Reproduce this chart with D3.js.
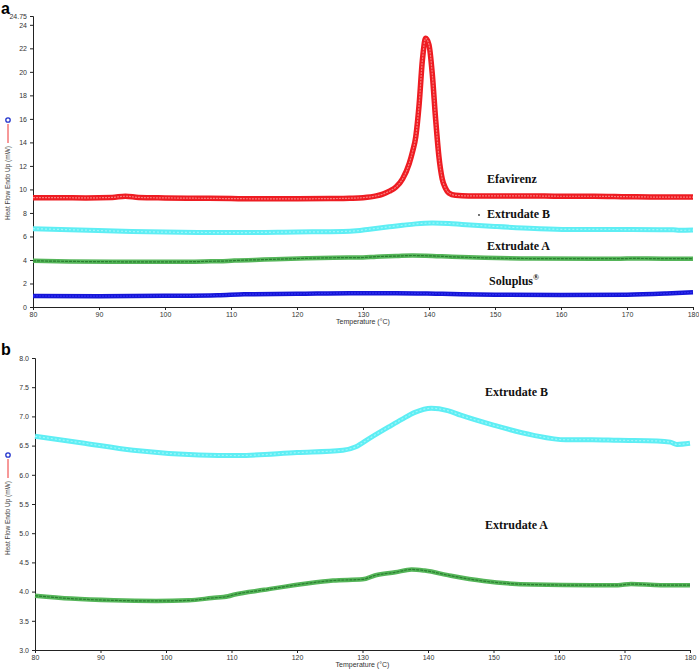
<!DOCTYPE html>
<html lang="en">
<head>
<meta charset="utf-8">
<title>DSC thermograms</title>
<script src="https://cdn.jsdelivr.net/npm/d3@7"></script>
<style>
  body { margin: 0; background: #fff; }
  .tick text { font-family: Arial, "Liberation Sans", sans-serif; font-size: 7px; fill: #333; }
  .lbl { font-family: "Liberation Serif", "Times New Roman", serif; font-weight: bold; font-size: 12px; fill: #111; }
</style>
</head>
<body>
<div id="chart"></div>
<script>
// Efavirenz (red)
var efT  = [80, 84, 88, 92, 94, 96, 100, 105, 110, 115, 120, 125, 128, 130, 132, 133, 134, 135, 136, 137, 137.5, 138, 138.5, 139, 139.5, 140, 140.5, 141, 141.5, 142, 142.5, 143, 144, 146, 150, 155, 160, 165, 170, 175, 180];
var efHF = [9.30, 9.30, 9.28, 9.32, 9.42, 9.32, 9.28, 9.25, 9.22, 9.20, 9.20, 9.22, 9.25, 9.30, 9.45, 9.60, 9.85, 10.2, 10.9, 12.2, 13.2, 14.5, 17.2, 21.0, 22.85, 22.3, 19.8, 16.0, 12.8, 10.9, 10.1, 9.7, 9.5, 9.45, 9.45, 9.45, 9.42, 9.42, 9.38, 9.35, 9.35];

// Extrudate B (cyan)
var bT  = [80, 87, 95, 105, 111, 120, 127, 129, 131, 134, 136, 138, 140.5, 143, 145, 150, 156, 161, 165, 169, 175, 177, 178, 180];
var bHF = [6.66, 6.55, 6.42, 6.34, 6.33, 6.38, 6.42, 6.48, 6.62, 6.82, 6.95, 7.07, 7.14, 7.10, 7.02, 6.85, 6.68, 6.60, 6.60, 6.59, 6.58, 6.56, 6.52, 6.54];

// Extrudate A (green)
var aT  = [80, 85.5, 92, 98.5, 103.5, 107, 109.5, 110.5, 115, 121.5, 125.5, 130, 132, 135, 137.5, 139.5, 143.5, 148.5, 156, 165, 169, 171, 175.5, 180];
var aHF = [3.93, 3.88, 3.85, 3.84, 3.85, 3.89, 3.92, 3.95, 4.03, 4.14, 4.19, 4.21, 4.28, 4.33, 4.38, 4.36, 4.27, 4.18, 4.12, 4.11, 4.11, 4.13, 4.11, 4.11];

// Soluplus (blue)
var sT  = [80, 90, 100, 108, 112, 120, 128, 135, 142, 150, 160, 170, 176, 180];
var sHF = [0.94, 0.92, 0.95, 1.00, 1.08, 1.12, 1.18, 1.18, 1.12, 1.05, 1.02, 1.05, 1.15, 1.25];

var xTicks = [80, 90, 100, 110, 120, 130, 140, 150, 160, 170, 180];
var yTicksA = [0, 2, 4, 6, 8, 10, 12, 14, 16, 18, 20, 22, 24, 24.75];
var yTicksB = [3.0, 3.5, 4.0, 4.5, 5.0, 5.5, 6.0, 6.5, 7.0, 7.5, 8.0];

var w = 699, h = 669;
var svg = d3.select("#chart").append("svg").attr("width", w).attr("height", h);

function zip(t, v){
  return t.map(function(d, i){ return [d, v[i]]; });
}

function series(g, x, y, t, v, col, inner, width, dash){
  var line = d3.line()
    .x(function(d){ return x(d[0]); })
    .y(function(d){ return y(d[1]); })
    .curve(d3.curveMonotoneX);
  var pts = zip(t, v);
  g.append("path").attr("d", line(pts)).attr("fill", "none")
    .attr("stroke", col).attr("stroke-width", width).attr("stroke-linejoin", "round");
  g.append("path").attr("d", line(pts)).attr("fill", "none")
    .attr("stroke", inner).attr("stroke-width", 1.2).attr("stroke-dasharray", dash);
}

function axes(g, x, y, yTicks, yFmt, ymin, titleY, legTop){
  g.append("g").attr("transform", "translate(0," + y(ymin) + ")")
    .call(d3.axisBottom(x).tickValues(xTicks).tickSize(3).tickPadding(2))
    .call(function(a){ a.selectAll("path,line").attr("stroke", "#222"); });
  g.append("g").attr("transform", "translate(" + x(80) + ",0)")
    .call(d3.axisLeft(y).tickValues(yTicks).tickFormat(yFmt).tickSize(3).tickPadding(3))
    .call(function(a){ a.selectAll("path,line").attr("stroke", "#222"); });
  g.append("text").attr("x", (x(80) + x(180)) / 2).attr("y", titleY)
    .attr("text-anchor", "middle")
    .style("font-family", "Arial, 'Liberation Sans', sans-serif").style("font-size", "7px").style("fill", "#333")
    .text("Temperature (°C)");
  // y title with legend glyph
  g.append("text").attr("transform", "translate(10," + legTop + ") rotate(-90)")
    .attr("text-anchor", "end")
    .style("font-family", "Arial, 'Liberation Sans', sans-serif").style("font-size", "6.5px").style("fill", "#444")
    .text("Heat Flow Endo Up (mW)");
  g.append("line").attr("x1", 8).attr("x2", 8).attr("y1", legTop - 3).attr("y2", legTop - 22)
    .attr("stroke", "#e33").attr("stroke-width", 1);
  g.append("circle").attr("cx", 8).attr("cy", legTop - 26).attr("r", 2.2)
    .attr("fill", "#fff").attr("stroke", "#2233cc").attr("stroke-width", 1.3);
}

// ---------- panel a ----------
var ga = svg.append("g");
var xa = d3.scaleLinear().domain([80, 180]).range([33, 693]);
var ya = d3.scaleLinear().domain([0, 24.75]).range([307, 16]);

axes(ga, xa, ya, yTicksA, function(d){ return d === 24.75 ? "24.75" : d3.format("d")(d); }, 0, 324, 146);

series(ga, xa, ya, sT, sHF, "#1616d8", "#3030f0", 4.5, "2,1");
series(ga, xa, ya, aT, aHF, "#55b559", "#2a7f30", 4.5, "3,1");
series(ga, xa, ya, bT, bHF, "#5eeef4", "#9ff6fa", 5, "2,2");
series(ga, xa, ya, efT, efHF, "#ee1c22", "#f87c7c", 5.5, "2,1");

ga.append("text").attr("class", "lbl").attr("x", 487).attr("y", 183).text("Efavirenz");
ga.append("text").attr("class", "lbl").attr("x", 487).attr("y", 218).text("Extrudate B");
ga.append("circle").attr("cx", 479).attr("cy", 215).attr("r", 0.9).attr("fill", "#333");
ga.append("text").attr("class", "lbl").attr("x", 487).attr("y", 250).text("Extrudate A");
var sol = ga.append("text").attr("class", "lbl").attr("x", 489).attr("y", 285).text("Soluplus");
sol.append("tspan").attr("dy", -5).style("font-size", "8px").text("®");

svg.append("text").attr("x", 1).attr("y", 14)
  .style("font-family", "Arial, 'Liberation Sans', sans-serif").style("font-weight", "bold").style("font-size", "16px")
  .text("a");

// ---------- panel b ----------
var gb = svg.append("g");
var xb = d3.scaleLinear().domain([80, 180]).range([35, 690]);
var yb = d3.scaleLinear().domain([3, 8]).range([650, 358]);

axes(gb, xb, yb, yTicksB, d3.format(".1f"), 3, 667, 481);

series(gb, xb, yb, bT, bHF, "#5eeef4", "#9ff6fa", 5, "2,2");
series(gb, xb, yb, aT, aHF, "#55b559", "#2a7f30", 4.5, "3,1");

gb.append("text").attr("class", "lbl").attr("x", 485).attr("y", 396).text("Extrudate B");
gb.append("text").attr("class", "lbl").attr("x", 485).attr("y", 529).text("Extrudate A");

svg.append("text").attr("x", 1).attr("y", 355)
  .style("font-family", "Arial, 'Liberation Sans', sans-serif").style("font-weight", "bold").style("font-size", "16px")
  .text("b");
</script>
</body>
</html>
